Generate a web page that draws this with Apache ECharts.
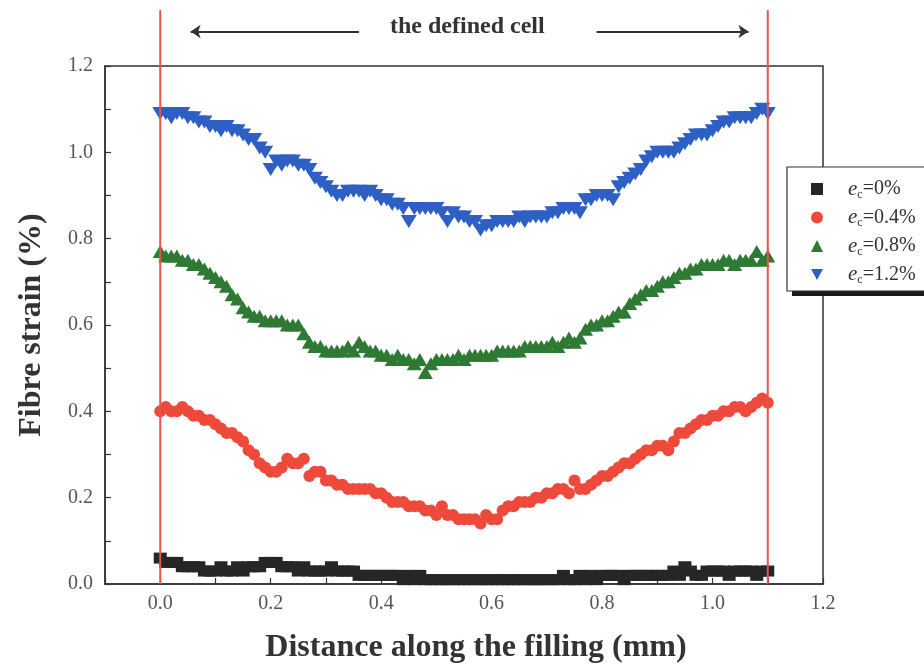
<!DOCTYPE html>
<html>
<head>
<meta charset="utf-8">
<script src="https://cdn.jsdelivr.net/npm/echarts@6/dist/echarts.min.js"></script>
<style>
  html, body { margin: 0; padding: 0; background: #fff; }
  #chart { width: 924px; height: 669px; }
</style>
</head>
<body>
<div id="chart"></div>
<script>
// distance along the filling (mm)
const distance = [
  0.00, 0.01, 0.02, 0.03, 0.04, 0.05, 0.06, 0.07, 0.08, 0.09,
  0.10, 0.11, 0.12, 0.13, 0.14, 0.15, 0.16, 0.17, 0.18, 0.19,
  0.20, 0.21, 0.22, 0.23, 0.24, 0.25, 0.26, 0.27, 0.28, 0.29,
  0.30, 0.31, 0.32, 0.33, 0.34, 0.35, 0.36, 0.37, 0.38, 0.39,
  0.40, 0.41, 0.42, 0.43, 0.44, 0.45, 0.46, 0.47, 0.48, 0.49,
  0.50, 0.51, 0.52, 0.53, 0.54, 0.55, 0.56, 0.57, 0.58, 0.59,
  0.60, 0.61, 0.62, 0.63, 0.64, 0.65, 0.66, 0.67, 0.68, 0.69,
  0.70, 0.71, 0.72, 0.73, 0.74, 0.75, 0.76, 0.77, 0.78, 0.79,
  0.80, 0.81, 0.82, 0.83, 0.84, 0.85, 0.86, 0.87, 0.88, 0.89,
  0.90, 0.91, 0.92, 0.93, 0.94, 0.95, 0.96, 0.97, 0.98, 0.99,
  1.00, 1.01, 1.02, 1.03, 1.04, 1.05, 1.06, 1.07, 1.08, 1.09,
  1.10
]

// fibre strain (%) for each applied strain e_c
const strain0 = [
  0.06, 0.05, 0.05, 0.05, 0.04, 0.04, 0.04, 0.04, 0.03, 0.03,
  0.03, 0.04, 0.03, 0.03, 0.04, 0.03, 0.04, 0.04, 0.04, 0.05,
  0.05, 0.05, 0.04, 0.04, 0.04, 0.03, 0.04, 0.03, 0.03, 0.03,
  0.03, 0.04, 0.03, 0.03, 0.03, 0.03, 0.02, 0.02, 0.02, 0.02,
  0.02, 0.02, 0.02, 0.02, 0.01, 0.02, 0.01, 0.02, 0.01, 0.01,
  0.01, 0.01, 0.01, 0.01, 0.01, 0.01, 0.01, 0.01, 0.01, 0.01,
  0.01, 0.01, 0.01, 0.01, 0.01, 0.01, 0.01, 0.01, 0.01, 0.01,
  0.01, 0.01, 0.01, 0.02, 0.01, 0.01, 0.02, 0.01, 0.02, 0.01,
  0.02, 0.02, 0.02, 0.02, 0.01, 0.02, 0.02, 0.02, 0.02, 0.02,
  0.02, 0.02, 0.02, 0.03, 0.02, 0.04, 0.03, 0.02, 0.02, 0.03,
  0.03, 0.03, 0.03, 0.02, 0.03, 0.03, 0.03, 0.03, 0.02, 0.03,
  0.03
]
const strain04 = [
  0.40, 0.41, 0.40, 0.40, 0.41, 0.40, 0.39, 0.39, 0.38, 0.38,
  0.37, 0.36, 0.35, 0.35, 0.34, 0.33, 0.31, 0.30, 0.28, 0.27,
  0.26, 0.26, 0.27, 0.29, 0.28, 0.28, 0.29, 0.25, 0.26, 0.26,
  0.24, 0.24, 0.23, 0.23, 0.22, 0.22, 0.22, 0.22, 0.22, 0.21,
  0.21, 0.20, 0.19, 0.19, 0.19, 0.18, 0.18, 0.18, 0.17, 0.17,
  0.16, 0.18, 0.16, 0.16, 0.15, 0.15, 0.15, 0.15, 0.14, 0.16,
  0.15, 0.15, 0.17, 0.18, 0.18, 0.19, 0.19, 0.19, 0.20, 0.20,
  0.21, 0.21, 0.22, 0.22, 0.21, 0.24, 0.22, 0.22, 0.23, 0.24,
  0.25, 0.25, 0.26, 0.27, 0.28, 0.28, 0.29, 0.30, 0.31, 0.31,
  0.32, 0.32, 0.31, 0.33, 0.35, 0.35, 0.36, 0.37, 0.38, 0.38,
  0.39, 0.39, 0.40, 0.40, 0.41, 0.41, 0.40, 0.41, 0.42, 0.43,
  0.42
]
const strain08 = [
  0.77, 0.76, 0.76, 0.76, 0.75, 0.75, 0.74, 0.74, 0.73, 0.72,
  0.71, 0.70, 0.69, 0.67, 0.66, 0.64, 0.63, 0.62, 0.62, 0.61,
  0.61, 0.61, 0.61, 0.60, 0.60, 0.60, 0.58, 0.56, 0.55, 0.55,
  0.54, 0.54, 0.54, 0.54, 0.55, 0.54, 0.56, 0.55, 0.54, 0.54,
  0.53, 0.53, 0.52, 0.53, 0.52, 0.52, 0.51, 0.52, 0.49, 0.51,
  0.52, 0.52, 0.52, 0.52, 0.53, 0.52, 0.53, 0.53, 0.53, 0.53,
  0.53, 0.54, 0.54, 0.54, 0.54, 0.54, 0.55, 0.55, 0.55, 0.55,
  0.55, 0.56, 0.55, 0.56, 0.57, 0.56, 0.57, 0.59, 0.60, 0.60,
  0.61, 0.61, 0.62, 0.63, 0.63, 0.65, 0.66, 0.67, 0.68, 0.68,
  0.69, 0.70, 0.70, 0.71, 0.72, 0.72, 0.73, 0.73, 0.74, 0.74,
  0.74, 0.74, 0.75, 0.75, 0.74, 0.75, 0.75, 0.75, 0.77, 0.75,
  0.76
]
const strain12 = [
  1.09, 1.09, 1.08, 1.09, 1.09, 1.08, 1.08, 1.07, 1.07, 1.06,
  1.06, 1.05, 1.06, 1.05, 1.05, 1.04, 1.03, 1.03, 1.01, 1.00,
  0.96, 0.98, 0.97, 0.98, 0.98, 0.97, 0.97, 0.96, 0.94, 0.93,
  0.92, 0.91, 0.90, 0.90, 0.91, 0.91, 0.91, 0.90, 0.91, 0.90,
  0.89, 0.89, 0.88, 0.88, 0.87, 0.84, 0.87, 0.87, 0.87, 0.87,
  0.87, 0.86, 0.84, 0.86, 0.85, 0.85, 0.84, 0.84, 0.82, 0.83,
  0.83, 0.84, 0.84, 0.84, 0.84, 0.85, 0.84, 0.85, 0.85, 0.85,
  0.85, 0.86, 0.86, 0.87, 0.87, 0.87, 0.86, 0.89, 0.89, 0.90,
  0.90, 0.90, 0.89, 0.92, 0.93, 0.94, 0.95, 0.96, 0.98, 0.99,
  1.00, 1.00, 1.00, 1.00, 1.01, 1.02, 1.03, 1.04, 1.04, 1.04,
  1.05, 1.06, 1.07, 1.07, 1.08, 1.08, 1.08, 1.08, 1.09, 1.10,
  1.09
]

const seriesNames = ['ec=0%', 'ec=0.4%', 'ec=0.8%', 'ec=1.2%']
const seriesColors = ['#262626', '#ee4a3b', '#2e7a34', '#2d5fc4']
const xTickLabels = [0.0, 0.2, 0.4, 0.6, 0.8, 1.0, 1.2]
const yTickLabels = [0.0, 0.2, 0.4, 0.6, 0.8, 1.0, 1.2]

// the defined cell boundaries and arrow annotation
const cellEdges = [0.0, 1.1]
const arrowY = 1.28
const leftArrow = [0.36, 0.055]
const rightArrow = [0.79, 1.065]

const downTriangle = 'path://M0,0 L10,0 L5,9 Z'

const pair = (ys) => distance.map((x, i) => [x, ys[i]])

const font = 'Liberation Serif, DejaVu Serif, serif'

const chart = echarts.init(document.getElementById('chart'))

const scatter = (name, data, symbol, size, color) => ({
  name,
  type: 'scatter',
  data: pair(data),
  symbol,
  symbolSize: size,
  itemStyle: { color, opacity: 1 },
  z: 3
})

// legend frame with its drop shadow
const legendBox = { x: 787, y: 167, width: 200, height: 124 }

const option = {
  animation: false,
  backgroundColor: '#fff',
  grid: {
    left: 105, right: 101, top: 66, bottom: 84,
    show: true, borderColor: '#333', borderWidth: 1.5
  },
  xAxis: {
    type: 'value',
    min: -0.1, max: 1.2, interval: 0.1,
    name: 'Distance along the filling (mm)',
    nameLocation: 'middle',
    nameGap: 48,
    nameTextStyle: {
      fontFamily: font, fontSize: 32, fontWeight: 'bold', color: '#333',
      padding: [0, 0, 0, 24]
    },
    axisLine: { onZero: false, lineStyle: { color: '#333', width: 1.5 } },
    axisTick: { inside: true, length: 6, lineStyle: { color: '#333', width: 1.2 } },
    axisLabel: {
      customValues: xTickLabels,
      formatter: (v) => v.toFixed(1),
      fontFamily: font, fontSize: 20, color: '#555', margin: 10
    },
    splitLine: { show: false }
  },
  yAxis: {
    type: 'value',
    min: 0, max: 1.2, interval: 0.1,
    name: 'Fibre strain (%)',
    nameLocation: 'middle',
    nameGap: 57,
    nameTextStyle: { fontFamily: font, fontSize: 32, fontWeight: 'bold', color: '#333' },
    axisLine: { show: true, onZero: false, lineStyle: { color: '#333', width: 1.5 } },
    axisTick: { show: true, inside: true, length: 6, lineStyle: { color: '#333', width: 1.2 } },
    axisLabel: {
      customValues: yTickLabels,
      formatter: (v) => v.toFixed(1),
      fontFamily: font, fontSize: 20, color: '#555', margin: 12
    },
    splitLine: { show: false }
  },
  legend: {
    data: [
      { name: seriesNames[0], icon: 'rect' },
      { name: seriesNames[1], icon: 'circle' },
      { name: seriesNames[2], icon: 'triangle' },
      { name: seriesNames[3], icon: downTriangle }
    ],
    orient: 'vertical',
    left: legendBox.x, top: legendBox.y,
    padding: [11, 10, 11, 24],
    itemGap: 6,
    itemWidth: 12, itemHeight: 12,
    z: 20,
    formatter: (n) => '{g|}{i|e}{s|c}{t|' + n.slice(2) + '}',
    textStyle: {
      fontFamily: font, fontSize: 20, color: '#333', lineHeight: 22,
      rich: {
        g: { width: 20 },
        i: { fontFamily: font, fontSize: 21, fontStyle: 'italic', color: '#333' },
        s: { fontFamily: font, fontSize: 12, color: '#333', padding: [11, 0, 0, 0] },
        t: { fontFamily: font, fontSize: 20, color: '#333' }
      }
    }
  },
  graphic: [
    {
      type: 'rect',
      z: 10,
      shape: { x: legendBox.x + 5, y: legendBox.y + 5, width: legendBox.width, height: legendBox.height },
      style: { fill: '#1a1a1a' }
    },
    {
      type: 'rect',
      z: 11,
      shape: { x: legendBox.x, y: legendBox.y, width: legendBox.width, height: legendBox.height },
      style: { fill: '#fff', stroke: '#333', lineWidth: 1.2 }
    },
    {
      type: 'text',
      left: 390, top: 15,
      style: {
        text: 'the defined cell',
        fontFamily: font, fontSize: 24, fontWeight: 'bold', fill: '#333'
      }
    }
  ],
  series: [
    scatter(seriesNames[0], strain0, 'rect', [13, 11], seriesColors[0]),
    scatter(seriesNames[1], strain04, 'circle', 12, seriesColors[1]),
    scatter(seriesNames[2], strain08, 'triangle', [15, 13], seriesColors[2]),
    scatter(seriesNames[3], strain12, downTriangle, [16, 13], seriesColors[3]),
    ...cellEdges.map((x) => ({
      type: 'line',
      data: [[x, 0], [x, 1.33]],
      clip: false,
      symbol: 'none',
      lineStyle: { color: '#e8534a', width: 2 },
      z: 4,
      silent: true
    })),
    {
      type: 'lines',
      coordinateSystem: 'cartesian2d',
      clip: false,
      symbol: ['none', 'arrow'],
      symbolSize: 10,
      lineStyle: { color: '#333', width: 2, opacity: 1 },
      data: [
        { coords: [[leftArrow[0], arrowY], [leftArrow[1], arrowY]] },
        { coords: [[rightArrow[0], arrowY], [rightArrow[1], arrowY]] }
      ],
      silent: true
    }
  ]
}

chart.setOption(option)
window.addEventListener('resize', () => chart.resize())
</script>
</body>
</html>
